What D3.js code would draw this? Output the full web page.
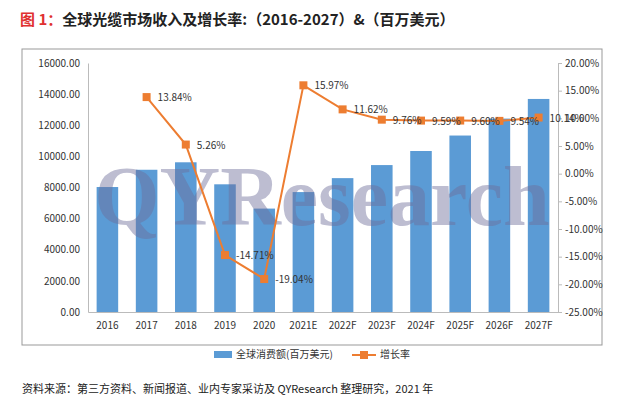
<!DOCTYPE html><html><head><meta charset="utf-8"><script src="https://cdn.jsdelivr.net/npm/d3@7"></script>
<style>body{margin:0;background:#fff}text{font-family:"Noto Sans CJK SC","Open Sans",sans-serif}</style></head><body><svg id="c" width="640" height="413"></svg><script>
const categories=["2016","2017","2018","2019","2020","2021E","2022F","2023F","2024F","2025F","2026F","2027F"];
const revenue=[8030,9140,9620,8205,6645,7706,8602,9441,10346,11339,12428,13690];
const growth=[null,13.84,5.26,-14.71,-19.04,15.97,11.62,9.76,9.59,9.60,9.54,10.14];
const leftTicks=[0,2000,4000,6000,8000,10000,12000,14000,16000];
const rightTicks=[-25,-20,-15,-10,-5,0,5,10,15,20];
const svg=d3.select("#c");
svg.append("text").attr("x",20).attr("y",25).attr("font-size",15).attr("font-weight","bold")
 .html('<tspan fill="#e03030">图 1：</tspan><tspan fill="#222">全球光缆市场收入及增长率:（2016-2027）&（百万美元）</tspan>');
svg.append("rect").attr("x",22).attr("y",49).attr("width",580).attr("height",296).attr("fill","none").attr("stroke","#999");
const L=88,R=558,T=63,B=312;
const x=d3.scaleBand().domain(categories).range([L,R]).paddingInner(0.45).paddingOuter(0.22);
const y=d3.scaleLinear().domain([0,16000]).range([B,T]);
const y2=d3.scaleLinear().domain([-25,20]).range([B,T]);
svg.selectAll(".bar").data(revenue).join("rect").attr("x",(d,i)=>x(categories[i])).attr("width",x.bandwidth())
 .attr("y",d=>y(d)).attr("height",d=>B-y(d)).attr("fill","#5b9bd5");
svg.append("text").attr("x",322).attr("y",225).attr("text-anchor","middle").attr("font-size",84)
 .style("font-family","'Liberation Serif',serif").attr("font-weight","bold").attr("fill","#6e6e9a").attr("opacity",0.45).text("QYResearch");
const la=svg.append("g").attr("transform",`translate(${L},0)`).call(d3.axisLeft(y).tickValues(leftTicks).tickFormat(d3.format(".2f")).tickSize(0).tickPadding(8));
la.select(".domain").attr("stroke","#bbb");la.selectAll("text").attr("font-size",10).attr("fill","#333");
const ra=svg.append("g").attr("transform",`translate(${R},0)`).call(d3.axisRight(y2).tickValues(rightTicks).tickFormat(d=>d.toFixed(2)+"%").tickSize(4).tickPadding(3));
ra.selectAll("line,.domain").attr("stroke","#bbb");ra.selectAll("text").attr("font-size",10).attr("fill","#333");
const ba=svg.append("g").attr("transform",`translate(0,${B})`).call(d3.axisBottom(x).tickSize(0).tickPadding(10));
ba.select(".domain").attr("stroke","#bbb");ba.selectAll("text").attr("font-size",10).attr("fill","#333");
const pts=growth.map((g,i)=>({g,c:categories[i]})).filter(d=>d.g!==null);
const cx=d=>x(d.c)+x.bandwidth()/2;
svg.append("path").datum(pts).attr("fill","none").attr("stroke","#ed7d31").attr("stroke-width",2)
 .attr("d",d3.line().x(cx).y(d=>y2(d.g)));
svg.selectAll(".pt").data(pts).join("rect").attr("x",d=>cx(d)-4).attr("y",d=>y2(d.g)-4).attr("width",8).attr("height",8).attr("fill","#ed7d31");
svg.selectAll(".lb").data(pts).join("text").attr("x",d=>cx(d)+11).attr("y",d=>y2(d.g)+4).attr("font-size",10).attr("fill","#333")
 .text(d=>d.g.toFixed(2)+"%");
const lg=svg.append("g");
lg.append("rect").attr("x",214).attr("y",351).attr("width",18).attr("height",7).attr("fill","#5b9bd5");
lg.append("text").attr("x",236).attr("y",358).attr("font-size",10).attr("fill","#333").text("全球消费额(百万美元)");
lg.append("line").attr("x1",352).attr("x2",376).attr("y1",355).attr("y2",355).attr("stroke","#ed7d31").attr("stroke-width",2);
lg.append("rect").attr("x",360).attr("y",351).attr("width",8).attr("height",8).attr("fill","#ed7d31");
lg.append("text").attr("x",380).attr("y",358).attr("font-size",10).attr("fill","#333").text("增长率");
svg.append("text").attr("x",22).attr("y",393).attr("font-size",11).attr("fill","#222").text("资料来源：第三方资料、新闻报道、业内专家采访及 QYResearch 整理研究，2021 年");
</script></body></html>
